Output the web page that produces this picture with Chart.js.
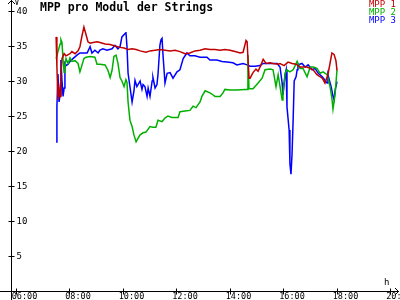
<!DOCTYPE html>
<html lang="de">
<head>
<meta charset="UTF-8">
<title>MPP pro Modul der Strings</title>
<script src="https://cdn.jsdelivr.net/npm/chart.js@4.4.1/dist/chart.umd.min.js"></script>
<style>
  body { margin: 0; background: #fff; }
</style>
</head>
<body>
<canvas id="chart" width="400" height="300"></canvas>
<script>
// Zeit in Stunden (dezimal), Werte in Volt
var mpp1Zeit = [7.51, 7.54, 7.58, 7.62, 7.66, 7.69, 7.73, 7.81, 7.88, 8.03, 8.10, 8.22, 8.33, 8.40, 8.48, 8.55, 8.63, 8.70, 8.78, 8.89,
    9.04, 9.15, 9.34, 9.53, 9.71, 9.90, 10.05, 10.20, 10.35, 10.50, 10.65, 10.87, 11.02, 11.21, 11.39, 11.58, 11.77, 11.96, 12.14, 12.33,
    12.51, 12.70, 12.89, 13.08, 13.26, 13.45, 13.64, 13.82, 14.01, 14.20, 14.39, 14.50, 14.61, 14.65, 14.72, 14.76, 14.87, 14.98, 15.06, 15.17,
    15.25, 15.36, 15.51, 15.62, 15.81, 15.88, 16.03, 16.18, 16.33, 16.48, 16.63, 16.89, 17.12, 17.26, 17.46, 17.56, 17.67, 17.82, 17.90, 17.97, 18.01];
var mpp1Wert = [36.3, 32.0, 27.3, 29.0, 27.8, 31.0, 33.2, 33.9, 33.6, 33.9, 34.2, 33.9, 34.3, 34.9, 36.5, 37.7, 36.6, 35.6, 35.4, 35.5,
    35.6, 35.5, 35.3, 35.2, 35.0, 34.8, 34.7, 34.5, 34.6, 34.5, 34.3, 34.1, 34.3, 34.4, 34.5, 34.4, 34.3, 34.4, 34.2, 33.9,
    34.0, 34.3, 34.4, 34.6, 34.5, 34.5, 34.4, 34.5, 34.4, 34.2, 34.0, 34.1, 35.8, 35.6, 30.4, 30.4, 31.2, 31.7, 31.4, 32.3,
    33.1, 32.5, 32.6, 32.5, 32.4, 32.5, 32.2, 32.7, 32.5, 32.4, 32.0, 32.0, 31.6, 30.9, 30.4, 29.7, 30.9, 34.0, 33.8, 32.9, 31.5];

var mpp2Zeit = [7.51, 7.58, 7.66, 7.69, 7.73, 7.77, 7.81, 7.84, 7.88, 7.96, 8.03, 8.10, 8.22, 8.33, 8.40, 8.48, 8.55, 8.63, 8.78, 8.96,
    9.04, 9.15, 9.34, 9.45, 9.53, 9.60, 9.67, 9.75, 9.82, 9.90, 9.97, 10.05, 10.12, 10.16, 10.20, 10.27, 10.35, 10.42, 10.50, 10.57,
    10.65, 10.76, 10.87, 11.02, 11.13, 11.24, 11.32, 11.47, 11.58, 11.69, 11.84, 12.07, 12.14, 12.33, 12.51, 12.63, 12.74, 12.89, 12.96, 13.08,
    13.26, 13.38, 13.45, 13.64, 13.75, 13.82, 14.01, 14.27, 14.57, 14.65, 14.68, 14.72, 14.87, 15.06, 15.21, 15.32, 15.51, 15.62, 15.73, 15.81,
    15.96, 15.99, 16.07, 16.14, 16.25, 16.37, 16.52, 16.63, 16.74, 16.89, 17.01, 17.12, 17.26, 17.38, 17.49, 17.64, 17.75, 17.82, 17.86, 17.94, 18.01];
var mpp2Wert = [33.2, 34.2, 35.3, 35.9, 35.5, 33.0, 31.2, 32.0, 33.2, 32.5, 33.3, 32.8, 32.9, 32.5, 31.3, 32.3, 33.2, 33.4, 33.5, 33.4,
    32.4, 32.4, 32.3, 31.5, 30.5, 31.5, 33.5, 33.7, 32.6, 30.5, 30.0, 29.2, 30.2, 29.8, 27.0, 24.4, 23.5, 22.3, 21.3, 21.8,
    22.3, 22.6, 22.7, 23.5, 23.4, 23.4, 24.4, 24.2, 24.7, 25.0, 24.8, 24.8, 25.6, 25.7, 25.8, 26.4, 26.2, 27.0, 27.8, 28.6,
    28.3, 28.0, 27.8, 27.8, 28.3, 28.8, 28.7, 28.7, 28.8, 28.8, 33.7, 28.9, 28.9, 29.7, 30.4, 31.6, 31.7, 31.6, 29.2, 30.9,
    27.3, 28.2, 31.1, 31.6, 31.3, 31.6, 32.8, 31.8, 31.8, 30.6, 32.0, 32.0, 31.8, 31.1, 31.3, 30.9, 29.2, 27.5, 26.0, 28.2, 31.6];

var mpp3Zeit = [7.51, 7.54, 7.58, 7.62, 7.66, 7.69, 7.73, 7.77, 7.81, 7.84, 7.88, 7.96, 8.03, 8.14, 8.29, 8.40, 8.52, 8.67, 8.78, 8.85,
    8.96, 9.08, 9.15, 9.26, 9.41, 9.60, 9.71, 9.82, 9.90, 9.97, 10.09, 10.12, 10.16, 10.20, 10.27, 10.35, 10.42, 10.46, 10.53, 10.65,
    10.72, 10.76, 10.83, 10.91, 10.95, 11.02, 11.10, 11.13, 11.21, 11.28, 11.32, 11.39, 11.43, 11.47, 11.51, 11.58, 11.66, 11.77, 11.88, 12.03,
    12.14, 12.26, 12.40, 12.51, 12.70, 12.89, 13.15, 13.26, 13.52, 13.71, 13.90, 14.12, 14.27, 14.50, 14.65, 14.76, 14.95, 15.13, 15.25, 15.51,
    15.77, 15.88, 15.96, 15.99, 16.07, 16.11, 16.14, 16.22, 16.25, 16.29, 16.33, 16.37, 16.41, 16.48, 16.52, 16.55, 16.70, 16.82, 16.93, 17.08,
    17.19, 17.31, 17.46, 17.56, 17.64, 17.67, 17.79, 17.86, 17.90, 17.94, 18.01];
var mpp3Wert = [21.3, 26.3, 31.0, 27.0, 28.0, 33.0, 30.0, 27.8, 29.0, 32.5, 32.2, 32.4, 32.8, 33.2, 33.7, 34.0, 34.0, 34.0, 34.9, 34.0,
    34.4, 34.0, 34.4, 34.6, 34.4, 34.6, 35.1, 34.6, 34.9, 36.3, 36.8, 37.0, 34.9, 31.1, 29.2, 27.0, 28.6, 30.1, 29.2, 30.0,
    28.8, 29.5, 29.2, 27.8, 29.0, 27.8, 30.0, 30.5, 29.0, 29.5, 31.0, 35.1, 35.9, 36.1, 33.5, 29.7, 31.1, 31.2, 30.4, 31.3,
    31.6, 33.2, 34.0, 33.6, 33.6, 33.4, 33.4, 33.0, 33.0, 32.8, 32.7, 32.6, 32.3, 32.5, 32.3, 32.1, 32.1, 32.2, 32.5, 32.5,
    32.5, 32.0, 29.7, 28.0, 30.9, 31.6, 26.3, 23.0, 18.2, 16.7, 19.6, 24.4, 30.0, 30.6, 31.6, 32.3, 32.5, 32.0, 32.3, 31.6,
    31.8, 31.1, 30.6, 30.1, 29.7, 30.9, 29.2, 27.8, 27.3, 28.7, 29.9];

var serienNamen = ['MPP 1', 'MPP 2', 'MPP 3'];
var serienFarben = ['#c00000', '#00b000', '#0000ff'];
var xTicks = [6, 8, 10, 12, 14, 16, 18, 20];
var yTicks = [5, 10, 15, 20, 25, 30, 35, 40];

function punkte(zeit, wert) {
    var p = [];
    for (var i = 0; i < zeit.length; i++) p.push({ x: zeit[i], y: wert[i] });
    return p;
}

function zeitText(h) {
    return (h < 10 ? '0' : '') + h + ':00';
}

// Achsen mit Pfeilen, Ticks und Beschriftung selbst zeichnen
var achsenPlugin = {
    id: 'achsen',
    afterDraw: function (chart) {
        var ctx = chart.ctx;
        var xs = chart.scales.x, ys = chart.scales.y;
        var x0 = Math.round(xs.left) + 0.5;
        var y0 = Math.round(ys.getPixelForValue(0)) + 0.5;
        ctx.save();
        ctx.strokeStyle = '#000';
        ctx.fillStyle = '#000';
        ctx.lineWidth = 1;
        ctx.beginPath();
        ctx.moveTo(x0, 0); ctx.lineTo(x0, chart.height);
        ctx.moveTo(0, y0); ctx.lineTo(chart.width - 1, y0);
        ctx.moveTo(x0 - 3.5, 4); ctx.lineTo(x0, 0.5); ctx.lineTo(x0 + 3.5, 4);
        ctx.moveTo(chart.width - 5, y0 - 3.5); ctx.lineTo(chart.width - 1.5, y0); ctx.lineTo(chart.width - 5, y0 + 3.5);
        yTicks.forEach(function (v) {
            var py = Math.round(ys.getPixelForValue(v)) + 0.5;
            ctx.moveTo(x0 - 3, py); ctx.lineTo(x0 + 3, py);
        });
        xTicks.forEach(function (t) {
            var px = Math.round(xs.getPixelForValue(t)) + 0.5;
            ctx.moveTo(px, y0 - 3); ctx.lineTo(px, y0 + 3);
        });
        ctx.stroke();

        ctx.font = '9px "DejaVu Sans Mono"';
        ctx.textAlign = 'left';
        ctx.textBaseline = 'middle';
        yTicks.forEach(function (v) {
            ctx.fillText(String(v), x0 + 5, ys.getPixelForValue(v) + 0.5);
        });
        ctx.font = '8.5px "DejaVu Sans Mono"';
        ctx.textBaseline = 'top';
        xTicks.forEach(function (t) {
            ctx.fillText(zeitText(t), xs.getPixelForValue(t) - 4, y0 + 1.5);
        });
        ctx.font = '8px "DejaVu Sans Mono"';
        ctx.fillText('V', x0 + 3, -1);
        ctx.font = '9px "DejaVu Sans Mono"';
        ctx.textBaseline = 'alphabetic';
        ctx.fillText('h', 384, y0 - 7);

        ctx.font = 'bold 11.5px "DejaVu Sans Mono"';
        ctx.textBaseline = 'top';
        ctx.fillText('MPP pro Modul der Strings', 40, 2);

        ctx.font = '9px "DejaVu Sans Mono"';
        ctx.textAlign = 'right';
        serienNamen.forEach(function (n, i) {
            ctx.fillStyle = serienFarben[i];
            ctx.fillText(n, 396, 0.5 + i * 7.7);
        });
        ctx.restore();
    }
};

var datenZeit = [mpp1Zeit, mpp2Zeit, mpp3Zeit];
var datenWert = [mpp1Wert, mpp2Wert, mpp3Wert];

var ctx = document.getElementById('chart').getContext('2d');
var myChart = new Chart(ctx, {
    type: 'line',
    data: {
        datasets: serienNamen.map(function (n, i) {
            return {
                label: n,
                data: punkte(datenZeit[i], datenWert[i]),
                borderColor: serienFarben[i],
                borderWidth: 1.5,
                pointRadius: 0,
                tension: 0,
                fill: false
            };
        })
    },
    options: {
        responsive: false,
        animation: false,
        devicePixelRatio: 1,
        layout: { padding: { left: 11, right: 2, top: 0, bottom: 9 } },
        plugins: { legend: { display: false }, tooltip: { enabled: false } },
        scales: {
            x: { type: 'linear', display: false, min: 5.824, max: 20.29 },
            y: { type: 'linear', display: false, min: 0, max: 41.57 }
        }
    },
    plugins: [achsenPlugin]
});
</script>
</body>
</html>
